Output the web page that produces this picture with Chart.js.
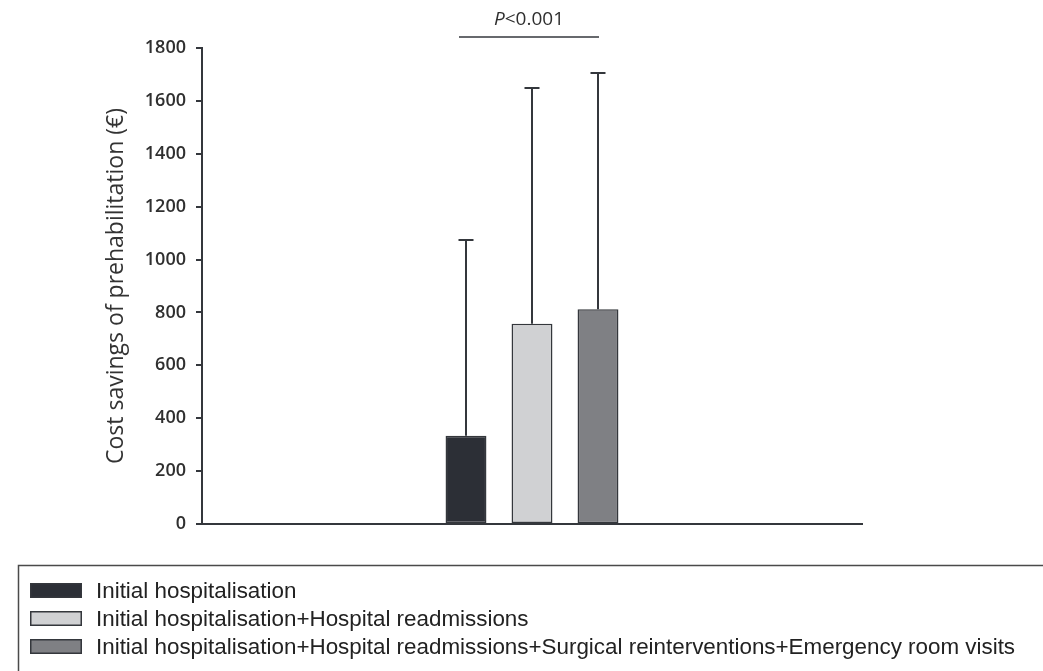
<!DOCTYPE html>
<html>
<head>
<meta charset="utf-8">
<script src="https://cdn.jsdelivr.net/npm/chart.js@4/dist/chart.umd.min.js"></script>
<style>
  html, body { margin: 0; padding: 0; background: #ffffff; }
  #wrap { width: 1043px; height: 671px; position: relative; }
</style>
</head>
<body>
<div id="wrap"><canvas id="chart" width="1043" height="671"></canvas></div>
<script>
// Cost savings of prehabilitation, by cost components included
const categories = [''];
const seriesLabels = [
  'Initial hospitalisation',
  'Initial hospitalisation+Hospital readmissions',
  'Initial hospitalisation+Hospital readmissions+Surgical reinterventions+Emergency room visits'
];
const meanSavings = [334, 757, 812];       // bar heights (€)
const upperErrorBar = [1074, 1649, 1705];  // top of each error bar (€)
const seriesColors = ['#2c2f36', '#d0d1d3', '#7f8084'];
const yTicks = [0, 200, 400, 600, 800, 1000, 1200, 1400, 1600, 1800];
const yTitle = 'Cost savings of prehabilitation (\u20AC)';
const pLabelItalic = 'P';
const pLabelRest = '<0.001';

const INK = '#34373c';

const errorBars = {
  id: 'errorBars',
  afterDatasetsDraw(chart) {
    const ctx = chart.ctx;
    const y = chart.scales.y;
    ctx.save();
    ctx.strokeStyle = INK;
    ctx.lineWidth = 2;
    chart.data.datasets.forEach((ds, i) => {
      const bar = chart.getDatasetMeta(i).data[0];
      const top = y.getPixelForValue(upperErrorBar[i]);
      ctx.beginPath();
      ctx.moveTo(bar.x, bar.y);
      ctx.lineTo(bar.x, top);
      ctx.moveTo(bar.x - 7.5, top);
      ctx.lineTo(bar.x + 7.5, top);
      ctx.stroke();
    });
    ctx.restore();
  }
};

const annotations = {
  id: 'annotations',
  afterDraw(chart) {
    const ctx = chart.ctx;
    const area = chart.chartArea;
    ctx.save();

    // y axis title
    ctx.fillStyle = '#333333';
    ctx.font = '23px "Open Sans"';
    ctx.textAlign = 'center';
    ctx.textBaseline = 'middle';
    ctx.translate(116, (area.top + area.bottom) / 2);
    ctx.rotate(-Math.PI / 2);
    ctx.fillText(yTitle, 0, 0);
    ctx.setTransform(1, 0, 0, 1, 0, 0);

    // significance bracket over the three bars
    const b1 = chart.getDatasetMeta(0).data[0];
    const b3 = chart.getDatasetMeta(2).data[0];
    const x0 = b1.x - 7, x1 = b3.x + 1;
    ctx.strokeStyle = INK;
    ctx.lineWidth = 1.5;
    ctx.beginPath();
    ctx.moveTo(x0, 37);
    ctx.lineTo(x1, 37);
    ctx.stroke();

    ctx.textBaseline = 'alphabetic';
    ctx.textAlign = 'left';
    ctx.fillStyle = '#2f2f2f';
    ctx.font = 'italic 19px "Open Sans"';
    const wP = ctx.measureText(pLabelItalic).width;
    ctx.font = '19px "Open Sans"';
    const wR = ctx.measureText(pLabelRest).width;
    const sx = (x0 + x1) / 2 - (wP + wR) / 2;
    ctx.font = 'italic 19px "Open Sans"';
    ctx.fillText(pLabelItalic, sx, 25);
    ctx.font = '19px "Open Sans"';
    ctx.fillText(pLabelRest, sx + wP, 25);

    // legend box
    ctx.strokeStyle = '#4a4a4a';
    ctx.lineWidth = 1.5;
    ctx.beginPath();
    ctx.moveTo(18.5, 680);
    ctx.lineTo(18.5, 565.5);
    ctx.lineTo(1050, 565.5);
    ctx.stroke();

    ctx.font = '22.4px "Liberation Sans", Arial, sans-serif';
    ctx.textBaseline = 'alphabetic';
    seriesLabels.forEach((label, i) => {
      const rowY = 583 + i * 28;
      ctx.fillStyle = seriesColors[i];
      ctx.fillRect(30, rowY, 52, 15);
      ctx.strokeStyle = INK;
      ctx.lineWidth = 1.5;
      ctx.strokeRect(30.75, rowY + 0.75, 50.5, 13.5);
      ctx.fillStyle = '#222222';
      ctx.fillText(label, 96, rowY + 15);
    });

    ctx.restore();
  }
};

new Chart(document.getElementById('chart'), {
  type: 'bar',
  data: {
    labels: categories,
    datasets: seriesLabels.map((label, i) => ({
      label: label,
      data: [meanSavings[i]],
      backgroundColor: seriesColors[i],
      borderColor: INK,
      borderWidth: 1.5,
      borderSkipped: false,
      categoryPercentage: 0.3,
      barPercentage: 0.62
    }))
  },
  options: {
    responsive: false,
    animation: false,
    layout: { padding: { top: 48, right: 181, bottom: 0, left: 0 } },
    plugins: {
      legend: { display: false },
      tooltip: { enabled: false }
    },
    scales: {
      x: {
        grid: { display: false },
        border: { display: true, color: INK, width: 2 },
        ticks: { display: false },
        afterFit(scale) { scale.height = 147; }
      },
      y: {
        min: 0,
        max: 1800,
        afterBuildTicks(scale) { scale.ticks = yTicks.map(v => ({ value: v })); },
        grid: { drawOnChartArea: false, drawTicks: true, tickLength: 6, color: INK, lineWidth: 2 },
        border: { display: true, color: INK, width: 2 },
        ticks: {
          padding: 10,
          color: '#2f2f2f',
          font: { family: '"Open Sans"', size: 18, weight: '600' },
          callback: (v) => String(v)
        },
        afterFit(scale) { scale.width = 202; }
      }
    }
  },
  plugins: [errorBars, annotations]
});
</script>
</body>
</html>
